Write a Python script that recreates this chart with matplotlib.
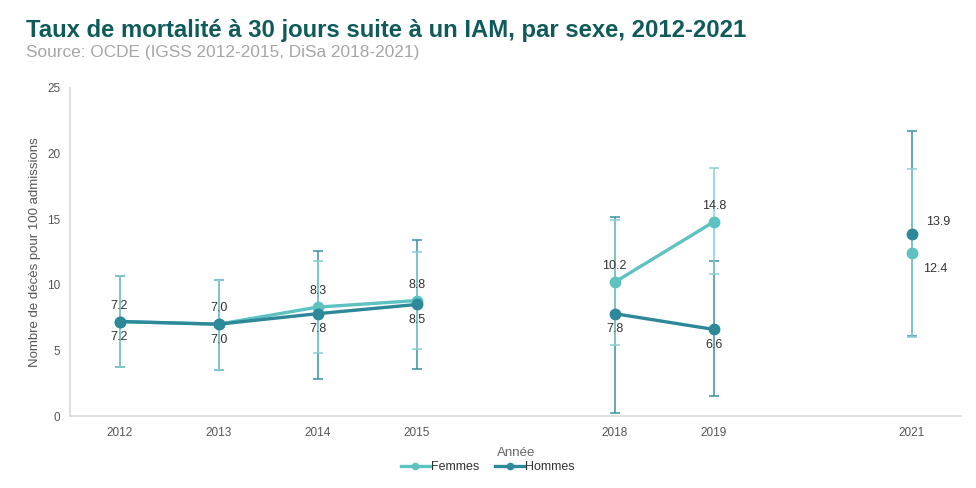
import numpy as np
import matplotlib.pyplot as plt

# categories on the x axis (blank ones are the missing years)
categories = ["2012", "2013", "2014", "2015", "", "2018", "2019", "", "2021"]

femmes = [7.2, 7.0, 8.3, 8.8, np.nan, 10.2, 14.8, np.nan, 12.4]
femmes_low = [3.7, 3.5, 4.8, 5.1, np.nan, 5.45, 10.8, np.nan, 6.0]
femmes_high = [10.7, 10.4, 11.8, 12.5, np.nan, 14.95, 18.9, np.nan, 18.8]

hommes = [7.2, 7.0, 7.8, 8.5, np.nan, 7.8, 6.6, np.nan, 13.9]
hommes_low = [3.7, 3.5, 2.85, 3.6, np.nan, 0.2, 1.5, np.nan, 6.1]
hommes_high = [10.7, 10.4, 12.6, 13.4, np.nan, 15.2, 11.8, np.nan, 21.7]

c_fem = "#5ec2c2"
c_fem_err = "#86cfd4"
c_hom = "#2d8899"
c_hom_err = "#3a8fa0"
txt = "#333333"

plt.rcParams['font.family'] = ['Liberation Sans', 'DejaVu Sans']

fig = plt.figure(figsize=(9.76, 4.88), dpi=100)
ax = fig.add_axes([0.0717, 0.1475, 0.9133, 0.6722])

x = np.arange(len(categories))
fem = np.array(femmes)
hom = np.array(hommes)

ax.errorbar(x, hom, yerr=[hom - np.array(hommes_low), np.array(hommes_high) - hom],
            fmt='none', ecolor=c_hom_err, elinewidth=1.1, capsize=3.5, capthick=1.1, zorder=2)
ax.errorbar(x, fem, yerr=[fem - np.array(femmes_low), np.array(femmes_high) - fem],
            fmt='none', ecolor=c_fem_err, elinewidth=1.1, capsize=3.5, capthick=1.1, zorder=2)

ax.plot(x, fem, color=c_fem, lw=2.4, marker='o', ms=7.5, zorder=3, label='Femmes')
ax.plot(x, hom, color=c_hom, lw=2.4, marker='o', ms=7.5, zorder=4, label='Hommes')

# data labels
for i in range(len(categories)):
    if np.isnan(fem[i]):
        continue
    if categories[i] == "2021":
        ax.annotate(f"{hom[i]:.1f}", (x[i], hom[i]), xytext=(10, 4), textcoords='offset points',
                    ha='left', va='bottom', fontsize=9, color=txt)
        ax.annotate(f"{fem[i]:.1f}", (x[i], fem[i]), xytext=(8, -7), textcoords='offset points',
                    ha='left', va='top', fontsize=9, color=txt)
    else:
        ax.annotate(f"{fem[i]:.1f}", (x[i], fem[i]), xytext=(0, 7), textcoords='offset points',
                    ha='center', va='bottom', fontsize=9, color=txt)
        ax.annotate(f"{hom[i]:.1f}", (x[i], hom[i]), xytext=(0, -7), textcoords='offset points',
                    ha='center', va='top', fontsize=9, color=txt)

ax.set_xlim(-0.5, len(categories) - 0.5)
ax.set_ylim(0, 25)
ax.set_yticks([0, 5, 10, 15, 20, 25])
ax.set_xticks(x)
ax.set_xticklabels(categories)
ax.tick_params(axis='both', length=0, labelsize=8.5, colors='#555555', pad=8)
ax.tick_params(axis='y', pad=7)

for s in ['top', 'right']:
    ax.spines[s].set_visible(False)
for s in ['left', 'bottom']:
    ax.spines[s].set_color('#d9d9d9')
    ax.spines[s].set_linewidth(1.2)

ax.set_ylabel("Nombre de décès pour 100 admissions", fontsize=9.5, color='#555555', labelpad=4)
ax.set_xlabel("Année", fontsize=9.5, color='#666666', labelpad=6)

leg = fig.legend(loc='center', bbox_to_anchor=(0.5, 0.043), ncol=2, frameon=False, fontsize=9,
                 handlelength=2.3, handletextpad=0.1, columnspacing=1.3, markerscale=0.6)
for t in leg.get_texts():
    t.set_color(txt)

fig.text(0.027, 0.937, "Taux de mortalité à 30 jours suite à un IAM, par sexe, 2012-2021",
         fontweight='bold', fontsize=17.2, color='#0f5a5a', va='center', ha='left')
fig.text(0.027, 0.893, "Source: OCDE (IGSS 2012-2015, DiSa 2018-2021)",
         fontsize=12.4, color='#a6a6a6', va='center', ha='left')

fig.savefig("out.png", dpi=100)
